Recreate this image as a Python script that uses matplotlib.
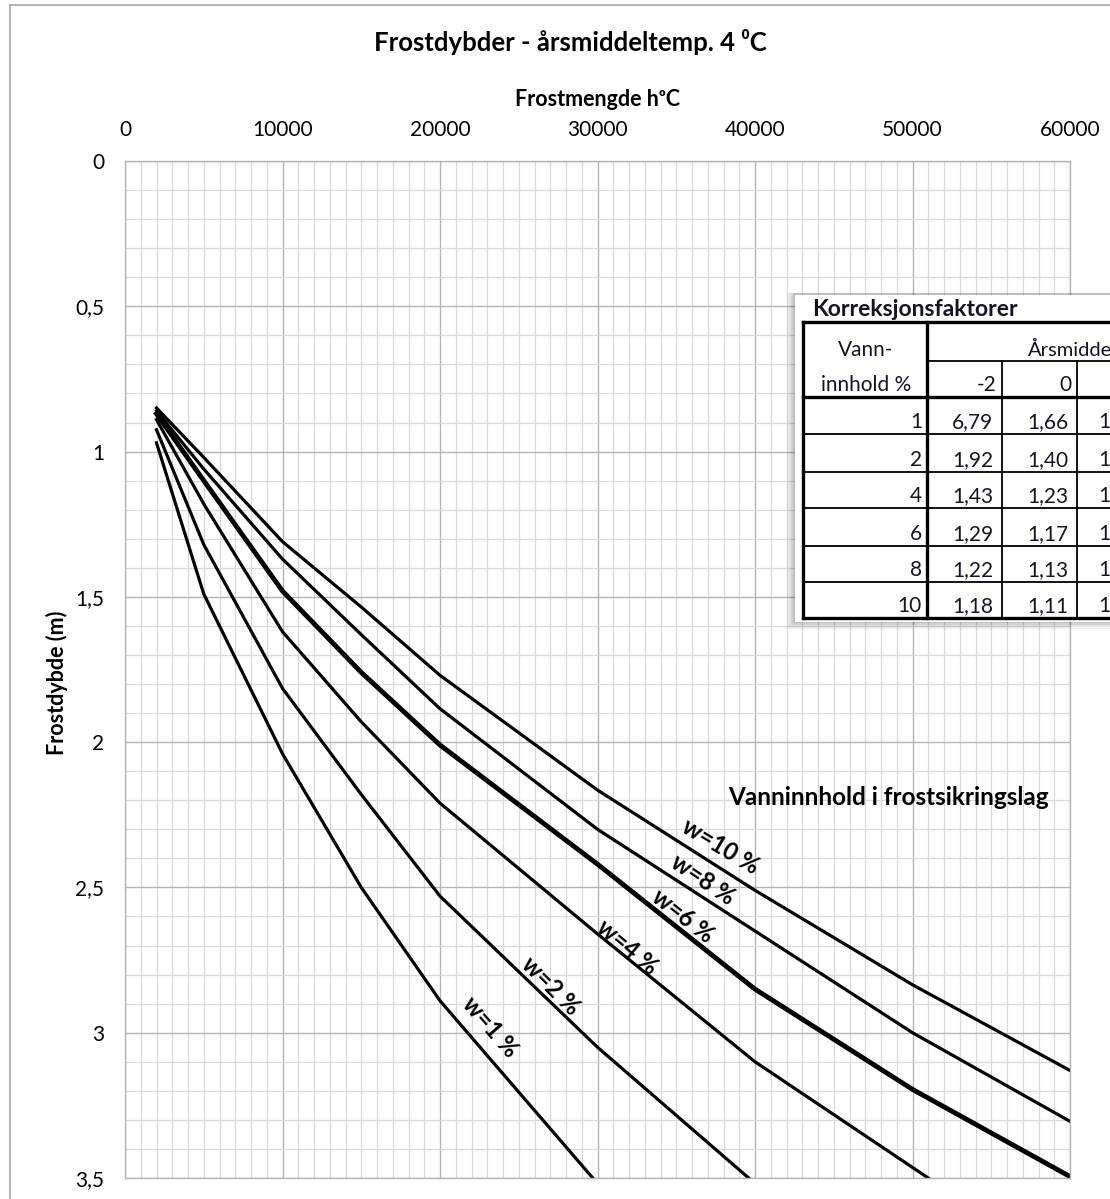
import matplotlib
matplotlib.use("Agg")
import matplotlib.pyplot as plt
from matplotlib.lines import Line2D
from matplotlib.patches import Rectangle

plt.rcParams['font.family'] = ['Lato', 'DejaVu Sans']

# frost amount (h°C) and frost depth (m)
x_main = [2000, 5000, 10000, 15000, 20000, 30000, 40000, 50000, 60000]
depth_w10 = [0.85, 1.02, 1.31, 1.535, 1.77, 2.165, 2.51, 2.835, 3.13]
depth_w8 = [0.86, 1.06, 1.37, 1.63, 1.885, 2.30, 2.65, 3.00, 3.305]
depth_w6 = [0.87, 1.10, 1.48, 1.76, 2.01, 2.42, 2.85, 3.195, 3.495]
x_w4 = [2000, 5000, 10000, 15000, 20000, 30000, 40000, 51000]
depth_w4 = [0.89, 1.18, 1.62, 1.93, 2.21, 2.66, 3.10, 3.5]
x_w2 = [2000, 5000, 10000, 15000, 20000, 30000, 39600]
depth_w2 = [0.925, 1.32, 1.815, 2.18, 2.53, 3.05, 3.5]
x_w1 = [2000, 5000, 10000, 15000, 20000, 29700]
depth_w1 = [0.97, 1.49, 2.04, 2.50, 2.89, 3.5]

curve_labels = ["w=10 %", "w=8 %", "w=6 %", "w=4 %", "w=2 %", "w=1 %"]
label_x = [37800, 36700, 35400, 31900, 27000, 23200]
label_y = [2.36, 2.475, 2.6, 2.705, 2.84, 2.98]
label_rot = [-31, -34, -38, -40, -45, -49]

x_ticks = [0, 10000, 20000, 30000, 40000, 50000, 60000]
y_ticks = [0, 0.5, 1, 1.5, 2, 2.5, 3, 3.5]
y_ticklabels = ["0", "0,5", "1", "1,5", "2", "2,5", "3", "3,5"]

# correction table (cut off at the right edge in the original)
water_content = ["1", "2", "4", "6", "8", "10"]
temp_headers = ["-2", "0"]
factor_m2 = ["6,79", "1,92", "1,43", "1,29", "1,22", "1,18"]
factor_0 = ["1,66", "1,40", "1,23", "1,17", "1,13", "1,11"]
factor_next = ["1", "1", "1", "1", "1", "1"]  # only first digit visible

W, H = 1110, 1199
fig = plt.figure(figsize=(W / 100, H / 100), dpi=100)


def fx(px):
    return px / W


def fy(py):
    return 1 - py / H


# outer chart frame
fig.add_artist(Line2D([fx(10), fx(10)], [fy(5), 0], color='#a6a6a6', lw=1.2))
fig.add_artist(Line2D([fx(10), 1], [fy(5), fy(5)], color='#a6a6a6', lw=1.2))

ax = fig.add_axes([fx(125), fy(1178), fx(1070) - fx(125), fy(161) - fy(1178)])
ax.set_xlim(0, 60000)
ax.set_ylim(3.5, 0)

ax.xaxis.tick_top()
ax.set_xticks(x_ticks)
ax.set_xticklabels([str(v) for v in x_ticks])
ax.set_yticks(y_ticks)
ax.set_yticklabels(y_ticklabels)
ax.set_xticks(range(0, 60001, 1000), minor=True)
ax.set_yticks([i / 10 for i in range(36)], minor=True)
ax.tick_params(which='both', length=0)
ax.tick_params(axis='x', labelsize=15, pad=15)
ax.tick_params(axis='y', labelsize=15, pad=15)
ax.grid(which='minor', color='#d9d9d9', lw=0.9)
ax.grid(which='major', color='#b3b3b3', lw=1.0)
ax.set_axisbelow(True)
for s in ax.spines.values():
    s.set_color('#b3b3b3')
    s.set_linewidth(1.0)

ax.plot(x_main, depth_w10, color='black', lw=2.3)
ax.plot(x_main, depth_w8, color='black', lw=2.3)
ax.plot(x_main, depth_w6, color='black', lw=3.5)
ax.plot(x_w4, depth_w4, color='black', lw=2.3)
ax.plot(x_w2, depth_w2, color='black', lw=2.3)
ax.plot(x_w1, depth_w1, color='black', lw=2.3)

for t, lx, ly, r in zip(curve_labels, label_x, label_y, label_rot):
    ax.text(lx, ly, t, rotation=r, rotation_mode='anchor', ha='center', va='center',
            fontsize=17, fontweight='bold')

ax.text(48450, 2.19, "Vanninnhold i frostsikringslag", ha='center', va='center',
        fontsize=17.5, fontweight='bold')

fig.text(fx(570), fy(42), "Frostdybder - årsmiddeltemp. 4 \u2070C", ha='center', va='center',
         fontsize=18.5, fontweight='bold')
fig.text(fx(598), fy(100), "Frostmengde h\u1d52C", ha='center', va='center',
         fontsize=15.5, fontweight='bold')
fig.text(fx(57), fy(683), "Frostdybde (m)", rotation=90, ha='center', va='center',
         fontsize=15.5, fontweight='bold')

# inset table, drawn in pixel coordinates
tx = fig.add_axes([fx(775), fy(640), fx(1110) - fx(775), fy(285) - fy(640)])
tx.set_xlim(775, 1110)
tx.set_ylim(640, 285)
tx.axis('off')
tx.set_zorder(5)
for i, a in enumerate([0.05, 0.06, 0.07, 0.09]):
    tx.add_patch(Rectangle((787 + i * 2, 293), 400, 336 - i * 2, color='black', alpha=a, lw=0))
tx.add_patch(Rectangle((795, 295), 400, 327, color='white', lw=0))

cols = [803, 927, 1002, 1077, 1152]
rows = [322, 397, 434, 472, 508, 546, 582, 618]
thick, thin = 2.4, 1.3
tx.plot([803, 1120], [322, 322], color='black', lw=thick)
tx.plot([803, 1120], [618, 618], color='black', lw=thick)
tx.plot([803, 803], [322, 618], color='black', lw=thick)
tx.plot([927, 927], [322, 618], color='black', lw=thick)
tx.plot([803, 1120], [397, 397], color='black', lw=thick)
tx.plot([927, 1120], [361, 361], color='black', lw=thin)
for c in cols[2:]:
    tx.plot([c, c], [361, 618], color='black', lw=thin)
for r in rows[2:-1]:
    tx.plot([803, 1120], [r, r], color='black', lw=thin)

tc = '#151522'
fs = 15
tx.text(812, 316, "Korreksjonsfaktorer", fontsize=16.5, fontweight='bold', color=tc, va='baseline')
tx.text(866, 356, "Vann-", fontsize=fs, ha='center', va='baseline', color=tc)
tx.text(866, 391, "innhold %", fontsize=fs, ha='center', va='baseline', color=tc)
tx.text(1028, 356, "Årsmidde", fontsize=14.5, ha='left', va='baseline', color=tc)
for c, h in zip(cols[2:4], temp_headers):
    tx.text(c - 5, 391, h, fontsize=fs, ha='right', va='baseline', color=tc)
for k in range(6):
    base = rows[k + 2] - 6
    tx.text(922, base, water_content[k], fontsize=fs, ha='right', va='baseline', color=tc)
    tx.text(993, base, factor_m2[k], fontsize=fs, ha='right', va='baseline', color=tc)
    tx.text(1068, base, factor_0[k], fontsize=fs, ha='right', va='baseline', color=tc)
    tx.text(1098, base, factor_next[k], fontsize=fs, ha='left', va='baseline', color=tc)

fig.savefig("out.png", dpi=100)
